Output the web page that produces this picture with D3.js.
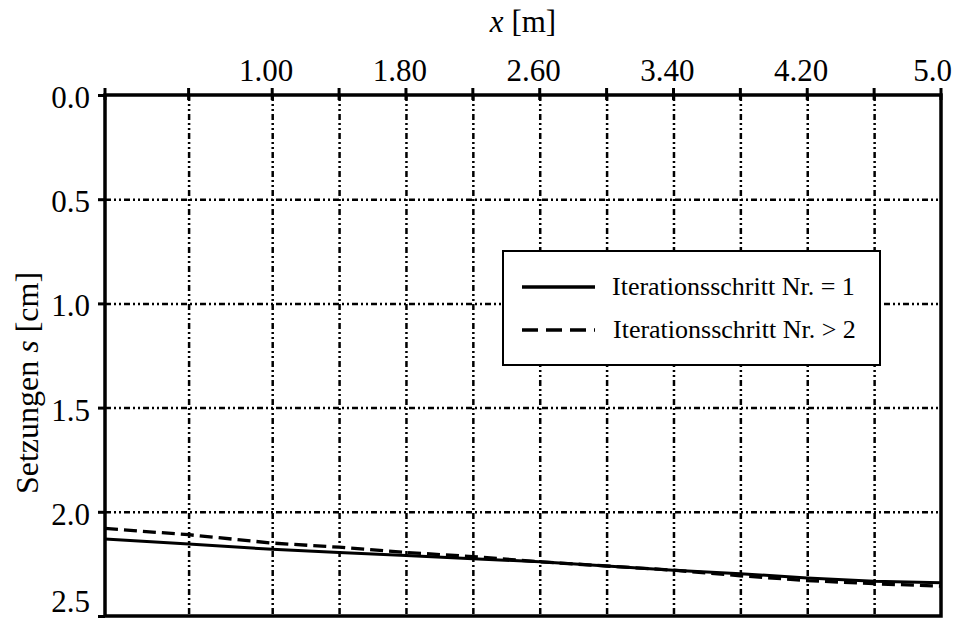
<!DOCTYPE html>
<html>
<head>
<meta charset="utf-8">
<script src="https://cdn.jsdelivr.net/npm/d3@7"></script>
<style>
  body { margin: 0; background: #fff; }
  text { font-family: "Liberation Serif", "Times New Roman", serif; fill: #000; }
</style>
</head>
<body>
<div class="chart"></div>
<script>
// positions along the beam [m]
var xValues = [0, 0.5, 1.0, 1.4, 1.8, 2.2, 2.6, 3.0, 3.4, 3.8, 4.2, 4.6, 5.0];
// settlements [cm]
var sIter1 = [2.13, 2.155, 2.18, 2.195, 2.21, 2.225, 2.24, 2.26, 2.28, 2.297, 2.318, 2.333, 2.34];
var sIter2 = [2.08, 2.11, 2.15, 2.17, 2.195, 2.215, 2.24, 2.26, 2.28, 2.307, 2.33, 2.345, 2.357];

var xGrid = [0.5, 1.0, 1.4, 1.8, 2.2, 2.6, 3.0, 3.4, 3.8, 4.2, 4.6];
var xLabelValues = [1.0, 1.8, 2.6, 3.4, 4.2, 5.0];
var xLabelText = ["1.00", "1.80", "2.60", "3.40", "4.20", "5.0"];
var yTicks = [0, 0.5, 1.0, 1.5, 2.0, 2.5];
var yGrid = [0.5, 1.0, 1.5, 2.0];
var seriesNames = ["Iterationsschritt Nr. = 1", "Iterationsschritt Nr. > 2"];

var W = 954, H = 620;
var margin = {left: 105, top: 95, right: 13, bottom: 4};
var w = W - margin.left - margin.right,
	h = H - margin.top - margin.bottom;

var x = d3.scaleLinear().domain([0, 5]).range([0, w]);
var y = d3.scaleLinear().domain([0, 2.5]).range([0, h]);

var svg = d3.select(".chart").append("svg")
	.attr("width", W)
	.attr("height", H);

var g = svg.append("g")
	.attr("transform", "translate(" + margin.left + "," + margin.top + ")");

var gridDash = "6,3,2,3,2,3";

// vertical grid
g.append("g")
	.call(d3.axisTop(x).tickValues(xGrid).tickSize(-h).tickFormat(""))
	.call(function(s) {
		s.select(".domain").remove();
		s.selectAll("line").attr("stroke", "#000").attr("stroke-width", 2.5).attr("stroke-dasharray", gridDash);
	});

// horizontal grid
g.append("g")
	.call(d3.axisLeft(y).tickValues(yGrid).tickSize(-w).tickFormat(""))
	.call(function(s) {
		s.select(".domain").remove();
		s.selectAll("line").attr("stroke", "#000").attr("stroke-width", 2.5).attr("stroke-dasharray", gridDash);
	});

// curves
var line = d3.line()
	.x(function(d) { return x(d[0]); })
	.y(function(d) { return y(d[1]); });

g.append("path")
	.datum(xValues.map(function(v, i) { return [v, sIter1[i]]; }))
	.attr("d", line)
	.attr("fill", "none")
	.attr("stroke", "#000")
	.attr("stroke-width", 3);

g.append("path")
	.datum(xValues.map(function(v, i) { return [v, sIter2[i]]; }))
	.attr("d", line)
	.attr("fill", "none")
	.attr("stroke", "#000")
	.attr("stroke-width", 3.3)
	.attr("stroke-dasharray", "13,6");

// frame
g.append("rect")
	.attr("width", w)
	.attr("height", h)
	.attr("fill", "none")
	.attr("stroke", "#000")
	.attr("stroke-width", 3.5);

// top ticks (crossing the frame)
g.append("g")
	.selectAll("line")
	.data([0].concat(xGrid, [5]))
	.enter().append("line")
	.attr("x1", function(d) { return x(d); })
	.attr("x2", function(d) { return x(d); })
	.attr("y1", -7)
	.attr("y2", 5)
	.attr("stroke", "#000")
	.attr("stroke-width", 3);

// top tick labels
g.append("g")
	.selectAll("text")
	.data(xLabelValues)
	.enter().append("text")
	.attr("x", function(d) { return d === 5 ? x(d) + 11 : x(d) - 6; })
	.attr("y", -14)
	.attr("text-anchor", function(d) { return d === 5 ? "end" : "middle"; })
	.style("font-size", "31px")
	.text(function(d, i) { return xLabelText[i]; });

// left axis
g.append("g")
	.call(d3.axisLeft(y).tickValues(yTicks).tickSize(7).tickPadding(8).tickFormat(d3.format(".1f")))
	.call(function(s) {
		s.select(".domain").remove();
		s.selectAll("line").attr("stroke", "#000").attr("stroke-width", 3);
		s.selectAll("text").style("font-size", "31px")
			.attr("dy", function(d) { return d === 2.5 ? "-0.15em" : "0.4em"; })
			.style("font-family", "Liberation Serif, serif");
	});

// axis titles
var xt = svg.append("text")
	.attr("x", 523)
	.attr("y", 32)
	.attr("text-anchor", "middle")
	.style("font-size", "31px");
xt.append("tspan").style("font-style", "italic").text("x");
xt.append("tspan").text(" [m]");

var yt = svg.append("text")
	.attr("transform", "translate(38,383)rotate(-90)")
	.attr("text-anchor", "middle")
	.style("font-size", "32px");
yt.append("tspan").text("Setzungen ");
yt.append("tspan").style("font-style", "italic").text("s");
yt.append("tspan").text(" [cm]");

// legend
var lg = svg.append("g").attr("transform", "translate(503,251)");
lg.append("rect")
	.attr("width", 377)
	.attr("height", 114)
	.attr("fill", "#fff")
	.attr("stroke", "#000")
	.attr("stroke-width", 2);

var items = lg.selectAll(".item")
	.data(seriesNames)
	.enter().append("g")
	.attr("transform", function(d, i) { return "translate(0," + (36 + i * 43) + ")"; });

items.append("line")
	.attr("x1", 19)
	.attr("x2", 92)
	.attr("stroke", "#000")
	.attr("stroke-width", 3.5)
	.attr("stroke-dasharray", function(d, i) { return i === 0 ? null : "16,8"; });

items.append("text")
	.attr("x", function(d, i) { return i === 0 ? 109 : 110; })
	.attr("y", 0)
	.attr("dy", "0.32em")
	.style("font-size", "26px")
	.text(function(d) { return d; });
</script>
</body>
</html>
